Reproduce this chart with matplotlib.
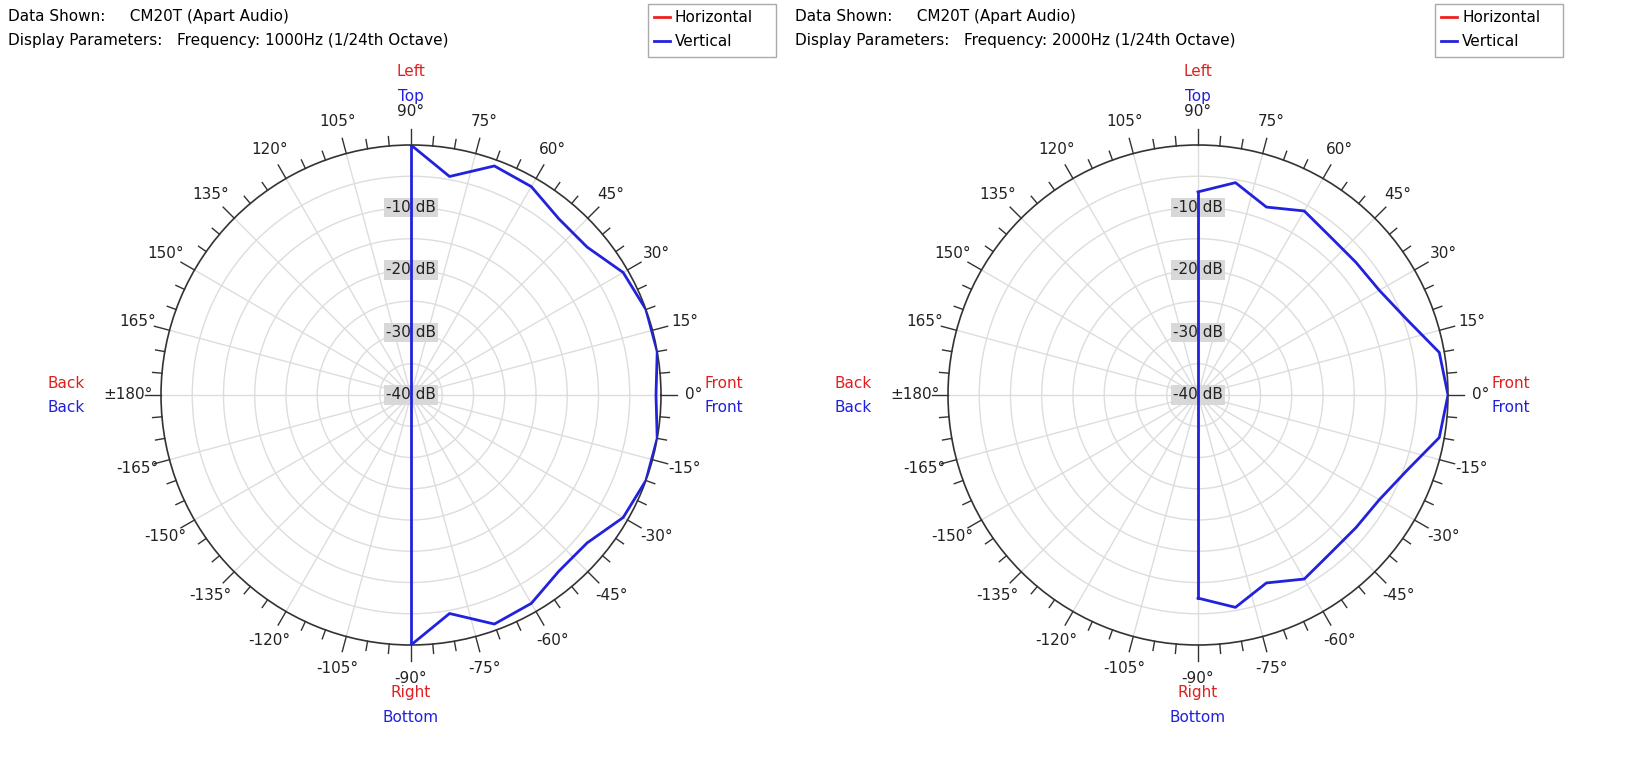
import numpy as np
import matplotlib.pyplot as plt

angles = [90, 80, 70, 60, 50, 40, 30, 20, 10, 0, -10, -20, -30, -40, -50, -60, -70, -80, -90]
vert_1000 = [0, -4.5, -1, -1.5, -3.2, -3.2, -0.8, 0, 0, -0.8, 0, 0, -0.8, -3.2, -3.2, -1.5, -1, -4.5, 0]
vert_2000 = [-7.5, -5.5, -8, -6, -7, -7, -6.5, -4.5, -0.8, 0, -0.8, -4.5, -6.5, -7, -7, -6, -8, -5.5, -7.5]
freqs = ["1000Hz", "2000Hz"]
db_rings = [-10, -20, -30, -40]

W, H = 1639, 763
fig = plt.figure(figsize=(W / 100, H / 100), dpi=100)
fig.patch.set_facecolor("white")

centers = [(411, 395), (1198, 395)]
R = 250

for (cx, cy), freq, vals, x0 in zip(centers, freqs, [vert_1000, vert_2000], [8, 795]):
    ax = fig.add_axes([(cx - R) / W, (H - cy - R) / H, 2 * R / W, 2 * R / H], projection="polar")
    ax.set_ylim(-40, 0)
    ax.set_yticks(np.arange(-35, 0, 5))
    ax.set_yticklabels([])
    ax.set_xticks(np.radians(np.arange(0, 360, 15)))
    ax.set_xticklabels([])
    ax.grid(color="#dddddd", lw=1)
    ax.spines["polar"].set_color("#333333")
    ax.spines["polar"].set_linewidth(1.2)
    # outer tick marks every 5 degrees
    for a in range(0, 360, 5):
        ln = 2.5 if a % 15 == 0 else 1.5
        ax.plot([np.radians(a)] * 2, [0, ln], color="#333333", lw=1, clip_on=False)
    for a in range(-165, 181, 15):
        lab = "±180°" if a == 180 else f"{a}°"
        ax.text(np.radians(a), 5.3, lab, ha="center", va="center", fontsize=11, color="#222222")
    for d in db_rings:
        ax.text(np.pi / 2, d, f"{d} dB", ha="center", va="center", fontsize=11, color="#222222",
                bbox=dict(boxstyle="square,pad=0.15", fc="#d8d8d8", ec="none"), zorder=2)
    th = np.radians(angles)
    ax.plot(th, vals, color="#2222dd", lw=2, zorder=3)
    ax.plot([th[0], th[-1]], [vals[0], vals[-1]], color="#2222dd", lw=2, zorder=3)

    px = cx / W
    fig.text(px, 1 - 72 / H, "Left", color="#e02020", ha="center", va="center", fontsize=11)
    fig.text(px, 1 - 96 / H, "Top", color="#2020dd", ha="center", va="center", fontsize=11)
    fig.text(px, 1 - 693 / H, "Right", color="#e02020", ha="center", va="center", fontsize=11)
    fig.text(px, 1 - 717 / H, "Bottom", color="#2020dd", ha="center", va="center", fontsize=11)
    fig.text((cx - 345) / W, 1 - 383 / H, "Back", color="#e02020", ha="center", va="center", fontsize=11)
    fig.text((cx - 345) / W, 1 - 407 / H, "Back", color="#2020dd", ha="center", va="center", fontsize=11)
    fig.text((cx + 313) / W, 1 - 383 / H, "Front", color="#e02020", ha="center", va="center", fontsize=11)
    fig.text((cx + 313) / W, 1 - 407 / H, "Front", color="#2020dd", ha="center", va="center", fontsize=11)

    fig.text(x0 / W, 1 - 17 / H, "Data Shown:     CM20T (Apart Audio)", fontsize=11, va="center")
    fig.text(x0 / W, 1 - 40 / H, f"Display Parameters:   Frequency: {freq} (1/24th Octave)", fontsize=11, va="center")

    # legend box
    lx = x0 + 640
    fig.patches.append(plt.Rectangle((lx / W, 1 - 57 / H), 128 / W, 53 / H, transform=fig.transFigure,
                                     fc="white", ec="#aaaaaa", lw=1))
    for yy, name, col in [(17, "Horizontal", "#ee2020"), (41, "Vertical", "#2222dd")]:
        fig.lines.append(plt.Line2D([(lx + 6) / W, (lx + 22) / W], [1 - yy / H] * 2,
                                    transform=fig.transFigure, color=col, lw=2))
        fig.text((lx + 27) / W, 1 - yy / H, name, fontsize=11, va="center")

fig.savefig("out.png", dpi=100)
